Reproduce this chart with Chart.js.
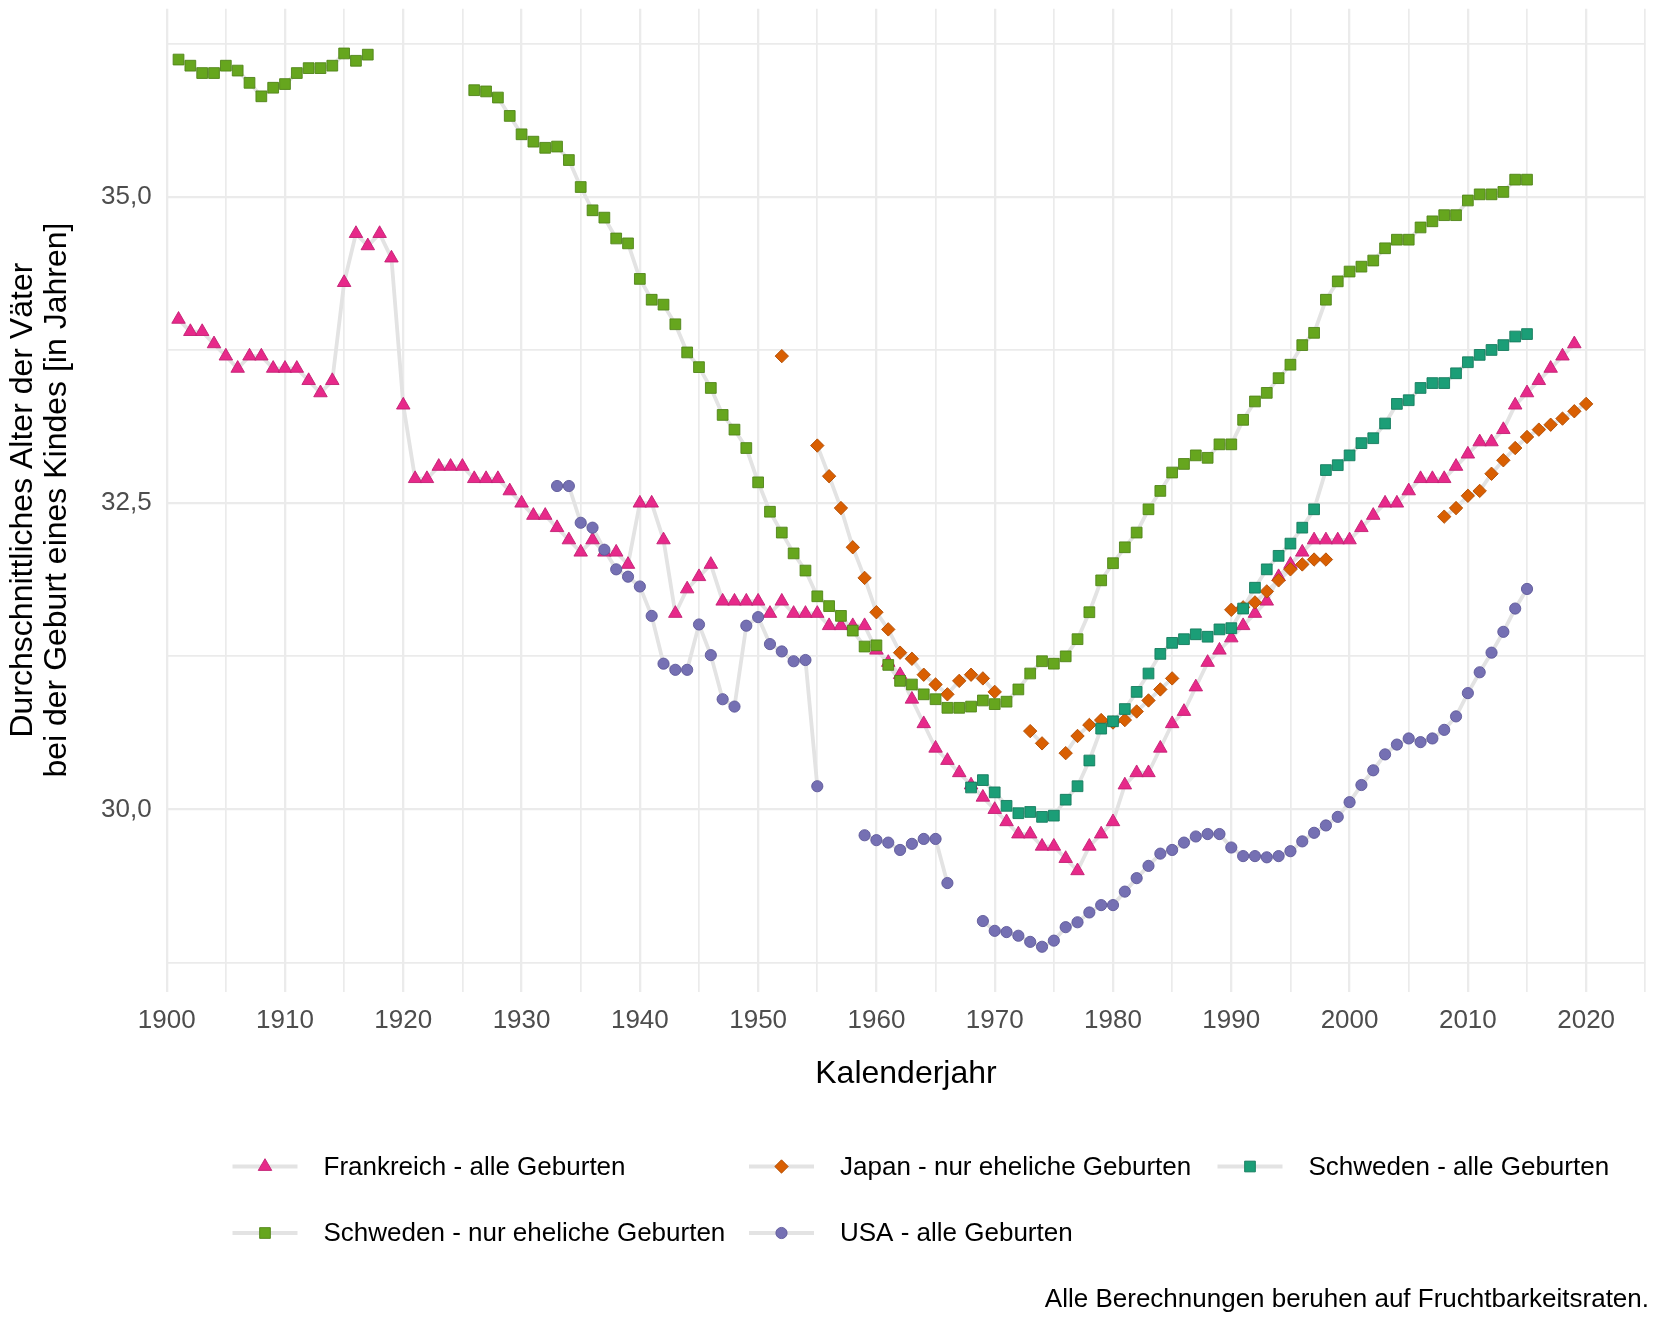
<!DOCTYPE html>
<html>
<head>
<meta charset="utf-8">
<script src="https://cdn.jsdelivr.net/npm/chart.js@4/dist/chart.umd.min.js"></script>
<style>
html, body { margin: 0; padding: 0; background: #ffffff; }
#wrap { width: 1654px; height: 1318px; position: relative; background: #ffffff; }
canvas { display: block; }
</style>
</head>
<body>
<div id="wrap"><canvas id="chart" width="1654" height="1318"></canvas></div>
<script>
// ---------- DATA ----------
// Each series: first calendar year + one value per following year (null = no data)
const franceStart = 1901;
const franceValues = [
  34.0, 33.9, 33.9, 33.8, 33.7, 33.6, 33.7, 33.7, 33.6, 33.6,
  33.6, 33.5, 33.4, 33.5, 34.3, 34.7, 34.6, 34.7, 34.5, 33.3,
  32.7, 32.7, 32.8, 32.8, 32.8, 32.7, 32.7, 32.7, 32.6, 32.5,
  32.4, 32.4, 32.3, 32.2, 32.1, 32.2, 32.1, 32.1, 32.0, 32.5,
  32.5, 32.2, 31.6, 31.8, 31.9, 32.0, 31.7, 31.7, 31.7, 31.7,
  31.6, 31.7, 31.6, 31.6, 31.6, 31.5, 31.5, 31.5, 31.5, 31.3,
  31.2, 31.1, 30.9, 30.7, 30.5, 30.4, 30.3, 30.2, 30.1, 30.0,
  29.9, 29.8, 29.8, 29.7, 29.7, 29.6, 29.5, 29.7, 29.8, 29.9,
  30.2, 30.3, 30.3, 30.5, 30.7, 30.8, 31.0, 31.2, 31.3, 31.4,
  31.5, 31.6, 31.7, 31.9, 32.0, 32.1, 32.2, 32.2, 32.2, 32.2,
  32.3, 32.4, 32.5, 32.5, 32.6, 32.7, 32.7, 32.7, 32.8, 32.9,
  33.0, 33.0, 33.1, 33.3, 33.4, 33.5, 33.6, 33.7, 33.8
];

const japanStart = 1952;
const japanValues = [
  33.70, null, null, 32.97, 32.72, 32.46, 32.14, 31.89, 31.61,
  31.47, 31.28, 31.23, 31.10, 31.02, 30.94, 31.05, 31.10, 31.07, 30.96,
  null, null, 30.64, 30.54, null, 30.46, 30.60, 30.69, 30.73, 30.71,
  30.73, 30.80, 30.89, 30.98, 31.07, null, null, null, null, 31.63,
  31.65, 31.69, 31.78, 31.87, 31.96, 32.00, 32.04, 32.04, null, null,
  null, null, null, null, null, null, null, 32.39, 32.46, 32.56,
  32.60, 32.74, 32.85, 32.95, 33.04, 33.10, 33.14, 33.19, 33.25, 33.31
];

const swedenAllStart = 1968;
const swedenAllValues = [
  30.18, 30.24, 30.14,
  30.03, 29.97, 29.98, 29.94, 29.95, 30.08, 30.19, 30.40, 30.66, 30.72,
  30.82, 30.96, 31.11, 31.27, 31.36, 31.39, 31.43, 31.41, 31.47, 31.48,
  31.64, 31.81, 31.96, 32.07, 32.17, 32.30, 32.45, 32.77, 32.81, 32.89,
  32.99, 33.03, 33.15, 33.31, 33.34, 33.44, 33.48, 33.48, 33.56, 33.65,
  33.71, 33.75, 33.79, 33.86, 33.88
];

const swedenMarriedStart = 1901;
const swedenMarriedValues = [
  36.12, 36.07, 36.01, 36.01, 36.07, 36.03, 35.93, 35.82, 35.89, 35.92,
  36.01, 36.05, 36.05, 36.07, 36.17, 36.11, 36.16, null, null, null,
  null, null, null, null, null, 35.87, 35.86, 35.81, 35.66, 35.51,
  35.45, 35.40, 35.41, 35.30, 35.08, 34.89, 34.83, 34.66, 34.62, 34.33,
  34.16, 34.12, 33.96, 33.73, 33.61, 33.44, 33.22, 33.10, 32.95, 32.67,
  32.43, 32.26, 32.09, 31.95, 31.74, 31.66, 31.58, 31.46, 31.33, 31.34,
  31.18, 31.05, 31.02, 30.94, 30.90, 30.83, 30.83, 30.84, 30.89, 30.86,
  30.88, 30.98, 31.11, 31.21, 31.19, 31.25, 31.39, 31.61, 31.87, 32.01,
  32.14, 32.26, 32.45, 32.60, 32.75, 32.82, 32.89, 32.87, 32.98, 32.98,
  33.18, 33.33, 33.40, 33.52, 33.63, 33.79, 33.89, 34.16, 34.31, 34.39,
  34.43, 34.48, 34.58, 34.65, 34.65, 34.75, 34.80, 34.85, 34.85, 34.97,
  35.02, 35.02, 35.04, 35.14, 35.14
];

const usaStart = 1933;
const usaValues = [
  32.64, 32.64, 32.34, 32.30, 32.12, 31.96, 31.90, 31.82,
  31.58, 31.19, 31.14, 31.14, 31.51, 31.26, 30.90, 30.84, 31.50, 31.57,
  31.35, 31.29, 31.21, 31.22, 30.19, null, null, null, 29.79, 29.75,
  29.73, 29.67, 29.72, 29.76, 29.76, 29.40, null, null, 29.09, 29.01,
  29.00, 28.97, 28.92, 28.88, 28.93, 29.04, 29.08, 29.16, 29.22, 29.22,
  29.33, 29.44, 29.54, 29.64, 29.67, 29.73, 29.78, 29.80, 29.80, 29.69,
  29.62, 29.62, 29.61, 29.62, 29.66, 29.74, 29.81, 29.87, 29.94, 30.06,
  30.20, 30.32, 30.45, 30.53, 30.58, 30.55, 30.58, 30.65, 30.76, 30.95,
  31.12, 31.28, 31.45, 31.64, 31.80
];

const seriesLabels = [
  'Frankreich - alle Geburten',
  'Japan - nur eheliche Geburten',
  'Schweden - alle Geburten',
  'Schweden - nur eheliche Geburten',
  'USA - alle Geburten'
];

const xTickValues = [
  1900, 1905, 1910, 1915, 1920, 1925, 1930, 1935, 1940, 1945, 1950, 1955, 1960,
  1965, 1970, 1975, 1980, 1985, 1990, 1995, 2000, 2005, 2010, 2015, 2020, 2025
];
const yTickValues = [28.75, 30.0, 31.25, 32.5, 33.75, 35.0, 36.25];
const yTitleLines = ['Durchschnittliches Alter der Väter', 'bei der Geburt eines Kindes [in Jahren]'];
const xTitle = 'Kalenderjahr';
const captionText = 'Alle Berechnungen beruhen auf Fruchtbarkeitsraten.';

// ---------- STYLES ----------
const FONT = '"Liberation Sans", Arial, "DejaVu Sans", sans-serif';
const LINE_GREY = '#E3E3E3';
const GRID = '#EBEBEB';
const styles = [
  { color: '#E7298A', border: '#C21F73', pointStyle: 'triangle', radius: 7.8, order: 5 },
  { color: '#D95F02', border: '#B04C02', pointStyle: 'rectRot', radius: 6.7, order: 4 },
  { color: '#1B9E77', border: '#157C5D', pointStyle: 'rect', radius: 7.6, order: 3 },
  { color: '#66A61E', border: '#508518', pointStyle: 'rect', radius: 7.6, order: 2 },
  { color: '#7570B3', border: '#5D5898', pointStyle: 'circle', radius: 5.6, order: 1 }
];

const seriesData = [
  [franceStart, franceValues],
  [japanStart, japanValues],
  [swedenAllStart, swedenAllValues],
  [swedenMarriedStart, swedenMarriedValues],
  [usaStart, usaValues]
];

function toPoints(start, values) {
  return values.map((v, i) => ({ x: start + i, y: v }));
}

const datasets = [];
seriesData.forEach(([start, values], i) => {
  const pts = toPoints(start, values);
  // connecting grey line (drawn beneath all markers)
  datasets.push({
    label: seriesLabels[i] + ' (Linie)',
    data: pts,
    borderColor: LINE_GREY,
    borderWidth: 3.8,
    pointRadius: 0,
    pointHoverRadius: 0,
    spanGaps: false,
    tension: 0,
    borderJoinStyle: 'round',
    fill: false,
    order: 10
  });
  // markers
  const st = styles[i];
  datasets.push({
    label: seriesLabels[i],
    data: pts,
    showLine: false,
    pointStyle: st.pointStyle,
    pointRadius: st.radius,
    pointHoverRadius: st.radius,
    pointBackgroundColor: st.color,
    pointBorderColor: st.border,
    pointBorderWidth: 0.9,
    order: st.order
  });
});

// ---------- custom ggplot-like legend + caption ----------
const legendSlots = [[232.5, 1166.5], [749, 1166.5], [1217.5, 1166.5], [232.5, 1233], [749, 1233]];
const ggLegend = {
  id: 'ggLegend',
  afterDraw(chart) {
    const ctx = chart.ctx;
    ctx.save();
    seriesLabels.forEach((label, i) => {
      const [x, y] = legendSlots[i];
      const st = styles[i];
      ctx.strokeStyle = LINE_GREY;
      ctx.lineWidth = 4;
      ctx.lineCap = 'butt';
      ctx.beginPath();
      ctx.moveTo(x, y);
      ctx.lineTo(x + 65, y);
      ctx.stroke();
      ctx.fillStyle = st.color;
      ctx.strokeStyle = st.border;
      ctx.lineWidth = 0.9;
      Chart.helpers.drawPoint(ctx, { pointStyle: st.pointStyle, rotation: 0, radius: st.radius, borderWidth: 0.9 }, x + 32.5, y);
      ctx.fillStyle = '#000000';
      ctx.font = '26px ' + FONT;
      ctx.textAlign = 'left';
      ctx.textBaseline = 'middle';
      ctx.fillText(label, x + 91, y + 1);
    });
    ctx.fillStyle = '#000000';
    ctx.font = '26px ' + FONT;
    ctx.textAlign = 'right';
    ctx.textBaseline = 'middle';
    ctx.fillText(captionText, 1649, 1300);
    ctx.restore();
  }
};

new Chart(document.getElementById('chart'), {
  type: 'line',
  data: { datasets },
  plugins: [ggLegend],
  options: {
    responsive: false,
    animation: false,
    devicePixelRatio: 1,
    layout: { padding: { left: 0, right: 4, top: 7.5, bottom: 224.8 } },
    plugins: { legend: { display: false }, tooltip: { enabled: false } },
    scales: {
      x: {
        type: 'linear',
        min: 1900,
        max: 2025,
        afterBuildTicks: s => { s.ticks = xTickValues.map(v => ({ value: v })); },
        afterFit: s => { s.height = 101.7; s.paddingLeft = 0; s.paddingRight = 0; },
        border: { display: false },
        grid: {
          color: GRID,
          drawTicks: false,
          lineWidth: c => (c.tick && c.tick.value % 10 === 0) ? 2.3 : 1.7
        },
        ticks: {
          autoSkip: false, maxRotation: 0, minRotation: 0,
          padding: 13.5,
          color: '#4D4D4D',
          font: { family: FONT, size: 26 },
          callback: v => (v % 10 === 0 ? String(v) : '')
        },
        title: {
          display: true, text: xTitle, color: '#000000',
          font: { family: FONT, size: 32 }, padding: { top: 0, bottom: 0 }
        }
      },
      y: {
        type: 'linear',
        min: 28.515,
        max: 36.535,
        afterBuildTicks: s => { s.ticks = yTickValues.map(v => ({ value: v })); },
        afterFit: s => { s.width = 166.7; s.paddingTop = 0; s.paddingBottom = 0; },
        border: { display: false },
        grid: {
          color: GRID,
          drawTicks: false,
          lineWidth: c => (c.tick && Math.abs(c.tick.value / 2.5 - Math.round(c.tick.value / 2.5)) < 1e-6) ? 2.3 : 1.7
        },
        ticks: {
          autoSkip: false,
          padding: 15,
          color: '#4D4D4D',
          font: { family: FONT, size: 26 },
          callback: v => (Math.abs(v / 2.5 - Math.round(v / 2.5)) < 1e-6 ? v.toFixed(1).replace('.', ',') : '')
        },
        title: {
          display: true, text: yTitleLines, color: '#000000',
          font: { family: FONT, size: 32, lineHeight: 1.05 }, padding: { top: 6.6, bottom: 0 }
        }
      }
    }
  }
});
</script>
</body>
</html>
